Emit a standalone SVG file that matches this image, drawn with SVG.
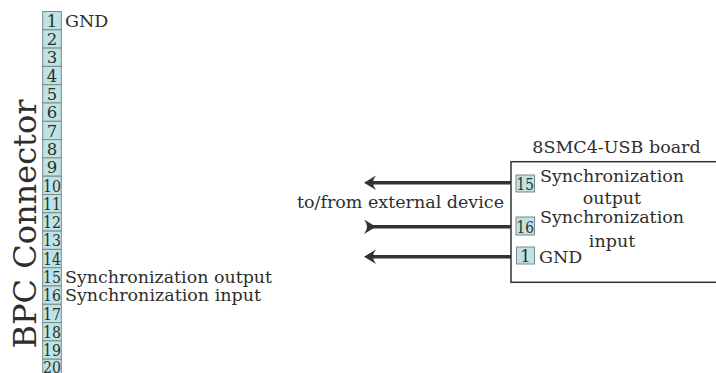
<svg xmlns="http://www.w3.org/2000/svg" width="716" height="373" viewBox="0 0 716 373">
<style>
text{font-family:"DejaVu Serif","Liberation Serif",serif;fill:#2e2e2e}
.pin rect{fill:#bfe3e3;stroke:#7a8a8a;stroke-width:1}
.pin text{font-size:16.5px;text-anchor:middle}
.lbl{font-size:17.5px}
.wire{stroke:#333;stroke-width:3.5;fill:none}
.head{fill:#333}
</style>
<rect width="716" height="373" fill="#fff"/>
<g id="bpc-title"><text transform="translate(36,224) rotate(-90)" text-anchor="middle" font-size="32">BPC Connector</text></g>
<g id="bpc-pins">
<g class="pin" id="p1"><rect x="42.7" y="11.5" width="18.6" height="18.3"/><text x="52" y="26.8">1</text></g>
<g class="pin" id="p2"><rect x="42.7" y="29.8" width="18.6" height="18.3"/><text x="52" y="45.1">2</text></g>
<g class="pin" id="p3"><rect x="42.7" y="48.1" width="18.6" height="18.3"/><text x="52" y="63.4">3</text></g>
<g class="pin" id="p4"><rect x="42.7" y="66.4" width="18.6" height="18.3"/><text x="52" y="81.7">4</text></g>
<g class="pin" id="p5"><rect x="42.7" y="84.7" width="18.6" height="18.3"/><text x="52" y="100">5</text></g>
<g class="pin" id="p6"><rect x="42.7" y="103" width="18.6" height="18.3"/><text x="52" y="118.3">6</text></g>
<g class="pin" id="p7"><rect x="42.7" y="121.3" width="18.6" height="18.3"/><text x="52" y="136.6">7</text></g>
<g class="pin" id="p8"><rect x="42.7" y="139.6" width="18.6" height="18.3"/><text x="52" y="154.9">8</text></g>
<g class="pin" id="p9"><rect x="42.7" y="157.9" width="18.6" height="18.3"/><text x="52" y="173.2">9</text></g>
<g class="pin" id="p10"><rect x="42.7" y="176.2" width="18.6" height="18.3"/><text x="52" y="191.5" textLength="18" lengthAdjust="spacingAndGlyphs">10</text></g>
<g class="pin" id="p11"><rect x="42.7" y="194.5" width="18.6" height="18.3"/><text x="52" y="209.8" textLength="18" lengthAdjust="spacingAndGlyphs">11</text></g>
<g class="pin" id="p12"><rect x="42.7" y="212.8" width="18.6" height="18.3"/><text x="52" y="228.1" textLength="18" lengthAdjust="spacingAndGlyphs">12</text></g>
<g class="pin" id="p13"><rect x="42.7" y="231.1" width="18.6" height="18.3"/><text x="52" y="246.4" textLength="18" lengthAdjust="spacingAndGlyphs">13</text></g>
<g class="pin" id="p14"><rect x="42.7" y="249.4" width="18.6" height="18.3"/><text x="52" y="264.7" textLength="18" lengthAdjust="spacingAndGlyphs">14</text></g>
<g class="pin" id="p15"><rect x="42.7" y="267.7" width="18.6" height="18.3"/><text x="52" y="283" textLength="18" lengthAdjust="spacingAndGlyphs">15</text></g>
<g class="pin" id="p16"><rect x="42.7" y="286" width="18.6" height="18.3"/><text x="52" y="301.3" textLength="18" lengthAdjust="spacingAndGlyphs">16</text></g>
<g class="pin" id="p17"><rect x="42.7" y="304.3" width="18.6" height="18.3"/><text x="52" y="319.6" textLength="18" lengthAdjust="spacingAndGlyphs">17</text></g>
<g class="pin" id="p18"><rect x="42.7" y="322.6" width="18.6" height="18.3"/><text x="52" y="337.9" textLength="18" lengthAdjust="spacingAndGlyphs">18</text></g>
<g class="pin" id="p19"><rect x="42.7" y="340.9" width="18.6" height="18.3"/><text x="52" y="356.2" textLength="18" lengthAdjust="spacingAndGlyphs">19</text></g>
<g class="pin" id="p20"><rect x="42.7" y="359.2" width="18.6" height="18.3"/><text x="52" y="372.5" textLength="18" lengthAdjust="spacingAndGlyphs">20</text></g>
</g>
<g id="bpc-labels">
<text class="lbl" x="65" y="26.5">GND</text>
<text class="lbl" x="65" y="282.5" textLength="207" lengthAdjust="spacingAndGlyphs">Synchronization output</text>
<text class="lbl" x="65" y="300.8" textLength="196" lengthAdjust="spacingAndGlyphs">Synchronization input</text>
</g>
<g id="board">
<text class="lbl" x="616.5" y="153" text-anchor="middle">8SMC4-USB board</text>
<rect x="511" y="161.7" width="210" height="120.6" fill="#fff" stroke="#333" stroke-width="1.5"/>
<g class="pin" id="b15"><rect x="516" y="175" width="18.5" height="17"/><text x="525.2" y="190" textLength="17.5" lengthAdjust="spacingAndGlyphs">15</text></g>
<g class="pin" id="b16"><rect x="516" y="217" width="18.5" height="18"/><text x="525.2" y="232.5" textLength="17.5" lengthAdjust="spacingAndGlyphs">16</text></g>
<g class="pin" id="b1"><rect x="516.5" y="247" width="18" height="17"/><text x="525.5" y="262">1</text></g>
<text class="lbl" x="612" y="181.5" text-anchor="middle">Synchronization</text>
<text class="lbl" x="612" y="204" text-anchor="middle">output</text>
<text class="lbl" x="612" y="222.5" text-anchor="middle">Synchronization</text>
<text class="lbl" x="612" y="246.5" text-anchor="middle">input</text>
<text class="lbl" x="539" y="263">GND</text>
</g>
<g id="connectors">
<line class="wire" x1="370" y1="182.7" x2="511" y2="182.7"/>
<path class="head" d="M364,182.7 L376,175.5 Q370,182.7 376,189.9 Z"/>
<line class="wire" x1="370" y1="226.7" x2="511" y2="226.7"/>
<path class="head" d="M376,226.7 L364,219.5 Q370,226.7 364,233.9 Z"/>
<line class="wire" x1="370" y1="256.7" x2="511" y2="256.7"/>
<path class="head" d="M364,256.7 L376,249.5 Q370,256.7 376,263.9 Z"/>
<text class="lbl" x="504" y="207.5" text-anchor="end">to/from external device</text>
</g>
</svg>
